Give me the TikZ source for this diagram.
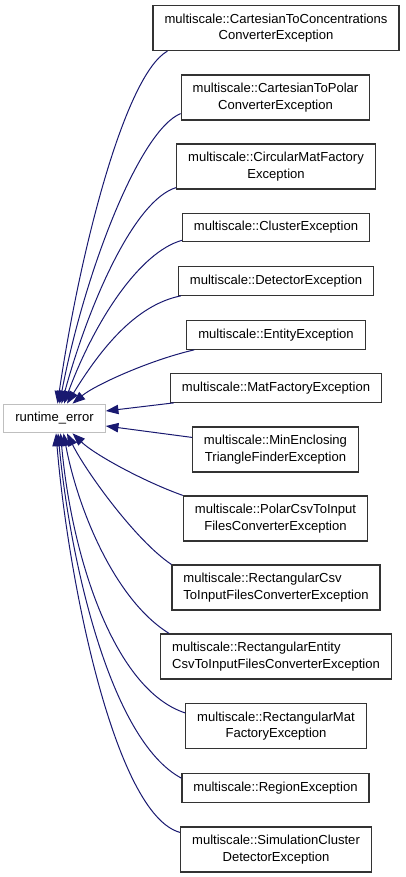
\documentclass[tikz,border=0pt]{standalone}
\usepackage{fontspec}
\setmainfont{Liberation Sans}
\usetikzlibrary{arrows.meta,calc}
\definecolor{edgeblue}{HTML}{191970}

\begin{document}
\begin{tikzpicture}[x=0.75pt,y=-0.75pt,
    cls/.style={draw=black!80,line width=0.9pt,inner xsep=8.6pt,inner ysep=2pt,
      minimum height=21.4pt,align=center,font=\fontsize{9.8pt}{12.2pt}\selectfont},
    two/.style={minimum height=33.75pt},
    base/.style={cls,draw=black!25},
    inh/.style={draw=edgeblue,line width=0.75pt,-{Triangle[length=9.5pt,width=7pt]}}]
\useasboundingbox (0,0) rectangle (405,877);

% draw base class
\node[base] (rt) at (54.5,418.5) {runtime\_error};

% draw derived classes
\node[cls,two] (cconc) at (276,28) {multiscale::CartesianToConcentrations\\ConverterException};
\node[cls,two] (cpolar) at (275.5,97.5) {multiscale::CartesianToPolar\\ConverterException};
\node[cls,two] (circ) at (276,166.5) {multiscale::CircularMatFactory\\Exception};
\node[cls] (cluster) at (276,227.5) {multiscale::ClusterException};
\node[cls] (detect) at (276,281) {multiscale::DetectorException};
\node[cls] (entity) at (276,335) {multiscale::EntityException};
\node[cls] (matfac) at (276,388) {multiscale::MatFactoryException};
\node[cls,two] (minenc) at (275.5,449.5) {multiscale::MinEnclosing\\TriangleFinderException};
\node[cls,two] (polcsv) at (275.5,518.5) {multiscale::PolarCsvToInput\\FilesConverterException};
\node[cls,two,align=left] (rectcsv) at (276,587.5) {multiscale::RectangularCsv\\ToInputFilesConverterException};
\node[cls,two,align=left] (rectent) at (276,656.5) {multiscale::RectangularEntity\\CsvToInputFilesConverterException};
\node[cls,two] (rectmat) at (276,726) {multiscale::RectangularMat\\FactoryException};
\node[cls] (region) at (275.5,788) {multiscale::RegionException};
\node[cls,two] (simclus) at (276,849.5) {multiscale::SimulationCluster\\DetectorException};

% draw inheritance edges (upper half)
\draw[inh] ($(cconc.south west)+(15,0)$) .. controls (125,75) and (80,250) .. ($(rt.north)+(3,0)$);
\draw[inh] ($(cpolar.south west)+(0,-7)$) .. controls (140,130) and (85,270) .. ($(rt.north)+(5,0)$);
\draw[inh] ($(circ.south west)+(0,-2)$) .. controls (135,200) and (90,300) .. ($(rt.north)+(7,0)$);
\draw[inh] ($(cluster.south west)+(0,-2)$) .. controls (140,252) and (95,320) .. ($(rt.north)+(9.5,0)$);
\draw[inh] ($(detect.south west)+(3,0)$) .. controls (135,305) and (100,350) .. ($(rt.north)+(12.5,0)$);
\draw[inh] ($(entity.south west)+(8,0)$) .. controls (150,360) and (95,385) .. ($(rt.north)+(18,0)$);
\draw[inh] ($(matfac.south west)+(4,0)$) -- ($(rt.east)+(0,-7.5)$);

% draw inheritance edges (lower half)
\draw[inh] ($(minenc.north west)+(0,11)$) -- ($(rt.east)+(0,7.5)$);
\draw[inh] (polcsv.north west) .. controls (145,482) and (95,455) .. ($(rt.south)+(18,0)$);
\draw[inh] (rectcsv.north west) .. controls (135,540) and (85,470) .. ($(rt.south)+(12.5,0)$);
\draw[inh] ($(rectent.north west)+(9,0)$) .. controls (115,600) and (78,510) .. ($(rt.south)+(9,0)$);
\draw[inh] ($(rectmat.north west)+(0,10)$) .. controls (115,690) and (72,560) .. ($(rt.south)+(6,0)$);
\draw[inh] ($(region.north west)+(0,5)$) .. controls (110,740) and (70,560) .. ($(rt.south)+(3.5,0)$);
\draw[inh] ($(simclus.north west)+(0,6)$) .. controls (115,815) and (68,580) .. ($(rt.south)+(1.5,0)$);

\end{tikzpicture}
\end{document}
